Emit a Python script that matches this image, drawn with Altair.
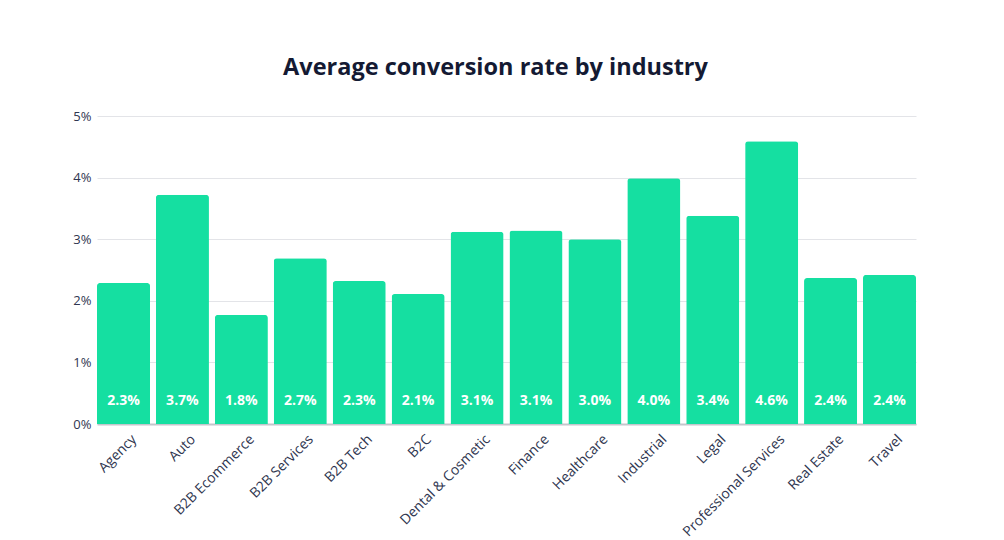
import altair as alt
import pandas as pd

industries = ["Agency", "Auto", "B2B Ecommerce", "B2B Services", "B2B Tech", "B2C",
              "Dental & Cosmetic", "Finance", "Healthcare", "Industrial", "Legal",
              "Professional Services", "Real Estate", "Travel"]
rates = [2.29, 3.72, 1.77, 2.69, 2.32, 2.11, 3.12, 3.14, 3.0, 3.99, 3.38, 4.59, 2.37, 2.42]

df = pd.DataFrame({"industry": industries, "rate": rates})

FONT = "Open Sans"

x = alt.X("industry:N", sort=industries, title=None,
          scale=alt.Scale(paddingInner=0.1, paddingOuter=0.0),
          axis=alt.Axis(labelAngle=-45, labelAlign="right", labelBaseline="top",
                        labelFontSize=14, labelColor="#2f3650", labelFont=FONT,
                        ticks=False, domainColor="#c4c6cc", domainWidth=2,
                        labelPadding=8, labelOffset=6))

bars = alt.Chart(df).mark_bar(color="#15DFA1", cornerRadiusTopLeft=3,
                              cornerRadiusTopRight=3).encode(
    x=x,
    y=alt.Y("rate:Q", title=None,
            scale=alt.Scale(domain=[0, 5]),
            axis=alt.Axis(values=[0, 1, 2, 3, 4, 5], labelExpr="datum.value + '%'",
                          labelFontSize=13, labelColor="#2f3650", labelFont=FONT,
                          domain=False, ticks=False, gridColor="#e3e4e8",
                          labelPadding=6)),
)

labels = alt.Chart(df).transform_calculate(
    lbl="format(datum.rate, '.1f') + '%'"
).mark_text(color="white", fontWeight="bold", fontSize=14,
            font=FONT, baseline="middle", dy=-23).encode(
    x=alt.X("industry:N", sort=industries),
    y=alt.datum(0),
    text="lbl:N",
)

chart = (bars + labels).properties(
    width=819, height=308,
    title=alt.Title("Average conversion rate by industry", fontSize=23.5, font=FONT,
                    fontWeight="bold", color="#141a33", offset=31, dx=-11),
    autosize=alt.AutoSizeParams(type="none"),
    padding={"left": 89, "top": 108, "right": 80, "bottom": 116},
).configure_view(stroke=None)

chart.save("out.html", embed_options={"renderer": "svg", "actions": False})
